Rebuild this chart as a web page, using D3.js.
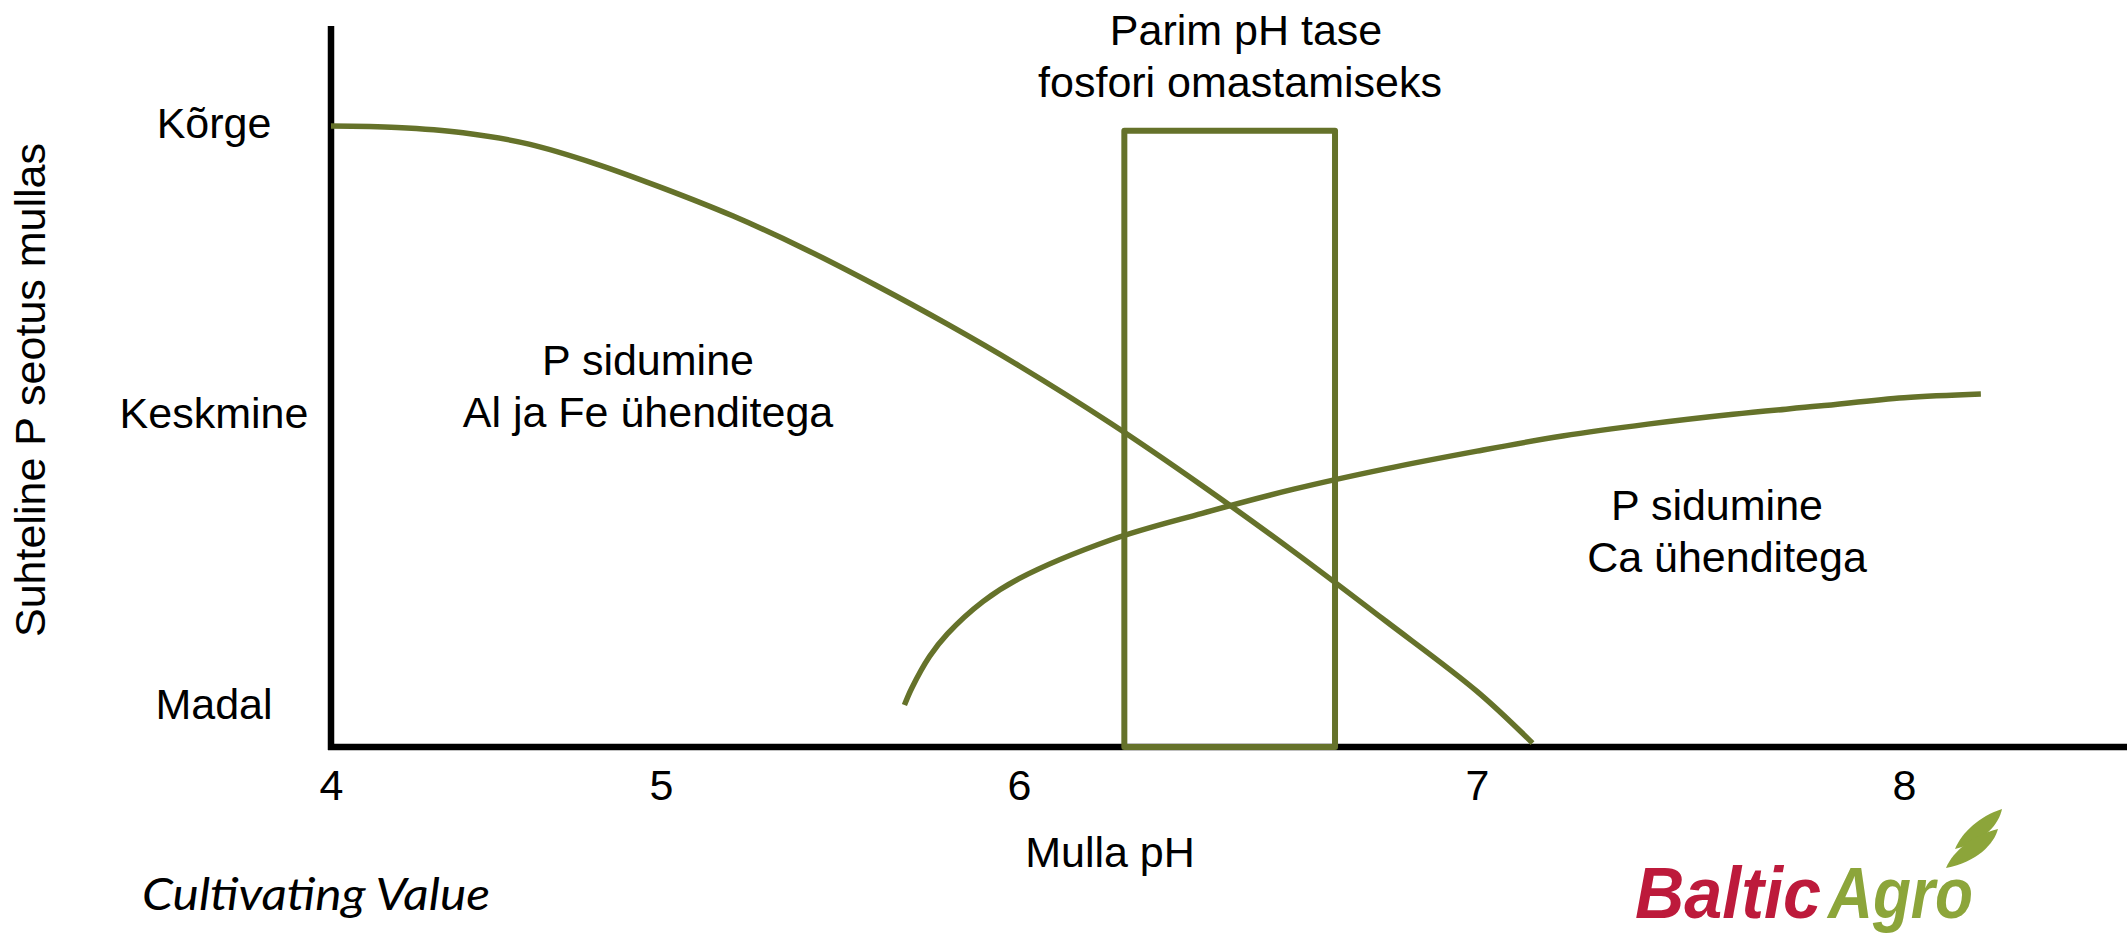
<!DOCTYPE html>
<html>
<head>
<meta charset="utf-8">
<script src="https://cdn.jsdelivr.net/npm/d3@7"></script>
<style>
  html, body { margin: 0; padding: 0; background: #fff; }
  svg { display: block; }
  text { font-family: "Liberation Sans", Arial, sans-serif; fill: #000; }
</style>
</head>
<body>
<div id="chart"></div>
<script>
// soil pH ticks and binding levels
const phTicks = [4, 5, 6, 7, 8];
const levelValues = [1, 2, 3];
const levelLabels = ['Madal', 'Keskmine', 'Kõrge'];

// P binding with Al and Fe (falls with pH)
const alFePh =    [4.0, 4.2, 4.4, 4.6, 4.8, 5.0, 5.2, 5.4, 5.6, 5.8, 6.0, 6.2, 6.4, 6.6, 6.8, 7.0, 7.13];
const alFeLevel = [2.986, 2.981, 2.963, 2.924, 2.857, 2.775, 2.677, 2.564, 2.438, 2.304, 2.161, 1.963, 1.748, 1.521, 1.283, 1.040, 0.862];

// P binding with Ca (rises with pH)
const caPh =    [5.68, 5.7, 5.75, 5.8, 5.9, 6.0, 6.2, 6.4, 6.6, 6.8, 7.0, 7.2, 7.4, 7.6, 7.8, 8.0, 8.18];
const caLevel = [0.993, 1.050, 1.160, 1.238, 1.350, 1.428, 1.561, 1.653, 1.736, 1.806, 1.867, 1.919, 1.960, 1.994, 2.022, 2.051, 2.064];

// best pH range for phosphorus uptake
const optimumPh = [6.23, 6.69];
const optimumTop = 2.97;

const width = 2127, height = 934;
const axisLeft = 331, axisBottom = 747, axisTop = 26;
const olive = '#65722a';

const svg = d3.select('#chart')
    .append('svg')
    .attr('width', width)
    .attr('height', height);

// the original axis has unevenly spaced pH labels, so a piecewise scale
const xScale = d3.scaleLinear()
    .domain(phTicks)
    .range([331, 661, 1019, 1477, 1904]);

const yScale = d3.scaleLinear()
    .domain([1, 3])
    .range([703, 122]);

// axes lines
svg.append('line')
    .attr('x1', axisLeft).attr('x2', axisLeft)
    .attr('y1', axisTop).attr('y2', axisBottom + 3)
    .attr('stroke', '#000').attr('stroke-width', 6.5);

svg.append('line')
    .attr('x1', axisLeft - 3).attr('x2', width)
    .attr('y1', axisBottom).attr('y2', axisBottom)
    .attr('stroke', '#000').attr('stroke-width', 6.5);

// x tick labels
const xAxis = svg.append('g')
    .attr('transform', `translate(0,${axisBottom})`)
    .call(d3.axisBottom(xScale).tickValues(phTicks).tickSize(0).tickFormat(d3.format('d')));
xAxis.select('.domain').remove();
xAxis.selectAll('text')
    .attr('y', 53)
    .attr('dy', 0)
    .style('font-size', '43px')
    .style('font-family', '"Liberation Sans", Arial, sans-serif');

// y tick labels
const yAxis = svg.append('g')
    .attr('transform', `translate(${axisLeft},0)`)
    .call(d3.axisLeft(yScale).tickValues(levelValues).tickSize(0)
        .tickFormat((d, i) => levelLabels[i]));
yAxis.select('.domain').remove();
yAxis.selectAll('text')
    .attr('x', -117)
    .attr('dy', '0.35em')
    .attr('text-anchor', 'middle')
    .style('font-size', '43px')
    .style('font-family', '"Liberation Sans", Arial, sans-serif');

// axis titles
svg.append('text')
    .attr('transform', 'translate(45,390) rotate(-90)')
    .attr('text-anchor', 'middle')
    .style('font-size', '43px')
    .text('Suhteline P seotus mullas');

svg.append('text')
    .attr('x', 1110).attr('y', 867)
    .attr('text-anchor', 'middle')
    .style('font-size', '43px')
    .text('Mulla pH');

// curves
const line = d3.line()
    .x(d => xScale(d[0]))
    .y(d => yScale(d[1]))
    .curve(d3.curveCatmullRom.alpha(0.5));

svg.append('path')
    .datum(d3.zip(alFePh, alFeLevel))
    .attr('fill', 'none')
    .attr('stroke', olive)
    .attr('stroke-width', 5.5)
    .attr('d', line);

svg.append('path')
    .datum(d3.zip(caPh, caLevel))
    .attr('fill', 'none')
    .attr('stroke', olive)
    .attr('stroke-width', 5.5)
    .attr('d', line);

// optimum box
svg.append('rect')
    .attr('x', xScale(optimumPh[0]))
    .attr('y', yScale(optimumTop))
    .attr('width', xScale(optimumPh[1]) - xScale(optimumPh[0]))
    .attr('height', axisBottom - yScale(optimumTop))
    .attr('fill', 'none')
    .attr('stroke', olive)
    .attr('stroke-width', 6)
    .attr('stroke-linejoin', 'round');

// annotations
const notes = [
    { lines: ['Parim pH tase', 'fosfori omastamiseks'], x: [1246, 1240], y: 45 },
    { lines: ['P sidumine', 'Al ja Fe ühenditega'], x: [648, 648], y: 375 },
    { lines: ['P sidumine', 'Ca ühenditega'], x: [1717, 1727], y: 520 }
];
notes.forEach(n => {
    n.lines.forEach((t, i) => {
        svg.append('text')
            .attr('x', n.x[i])
            .attr('y', n.y + i * 52)
            .attr('text-anchor', 'middle')
            .style('font-size', '43px')
            .text(t);
    });
});

// footer slogan
svg.append('text')
    .attr('x', 142).attr('y', 910)
    .attr('textLength', 348)
    .attr('lengthAdjust', 'spacingAndGlyphs')
    .style('font-family', 'Lato, "Open Sans", sans-serif')
    .style('font-style', 'italic')
    .style('font-size', '44px')
    .text('Cultivating Value');

// logo
const logo = svg.append('g');
logo.append('text')
    .attr('x', 1635).attr('y', 918)
    .attr('textLength', 186)
    .attr('lengthAdjust', 'spacingAndGlyphs')
    .style('font-weight', 'bold')
    .style('font-style', 'italic')
    .style('font-size', '72px')
    .style('fill', '#bd1a3b')
    .text('Baltic');
logo.append('text')
    .attr('x', 1828).attr('y', 918)
    .attr('textLength', 145)
    .attr('lengthAdjust', 'spacingAndGlyphs')
    .style('font-weight', 'bold')
    .style('font-style', 'italic')
    .style('font-size', '72px')
    .style('fill', '#8ca53a')
    .text('Agro');
logo.append('path')
    .attr('d', 'M1955,849 C1962,832 1980,816 2002,809 C1999,824 1984,842 1955,849 Z')
    .attr('fill', '#8ca53a');
logo.append('path')
    .attr('d', 'M1946,868 C1953,851 1973,835 1998,829 C1994,844 1977,862 1946,868 Z')
    .attr('fill', '#8ca53a');
</script>
</body>
</html>
